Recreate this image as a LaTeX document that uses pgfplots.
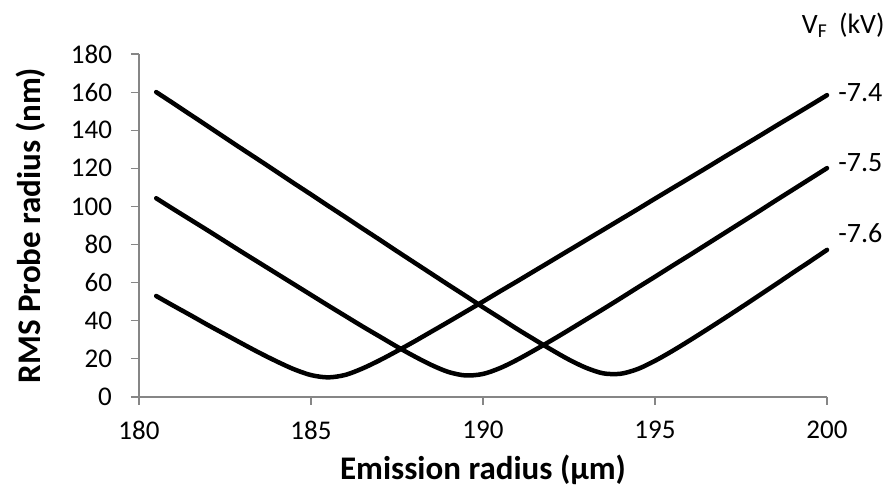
\documentclass[border=0pt]{standalone}
\usepackage{fontspec}
\setmainfont{Carlito}
\usepackage{pgfplots}
\usepackage{pgfplotstable}
\pgfplotsset{compat=1.18}
\definecolor{axgray}{HTML}{868686}

\pgfplotstableread{
x y
180.5 53.0
181 47.9
181.5 42.9
182 37.8
182.5 32.9
183 28.0
183.5 23.2
184 18.7
184.5 14.6
185 11.5
185.5 10.3
186 11.6
186.5 15.0
187 19.3
187.5 24.1
188 29.1
188.5 34.3
189 39.5
189.5 44.8
190 50.1
190.5 55.5
191 60.8
191.5 66.2
192 71.6
192.5 77.0
193 82.4
193.5 87.8
194 93.2
194.5 98.6
195 104.1
195.5 109.5
196 114.9
196.5 120.3
197 125.8
197.5 131.2
198 136.6
198.5 142.1
199 147.5
199.5 152.9
200 158.4
}\seriesA

\pgfplotstableread{
x y
180.5 104.3
181 98.6
181.5 93.0
182 87.4
182.5 81.7
183 76.0
183.5 70.4
184 64.8
184.5 59.2
185 53.6
185.5 48.0
186 42.5
186.5 37.0
187 31.7
187.5 26.4
188 21.4
188.5 16.8
189 13.1
189.5 11.3
190 12.1
190.5 15.2
191 19.6
191.5 24.6
192 29.8
192.5 35.2
193 40.7
193.5 46.2
194 51.8
194.5 57.5
195 63.1
195.5 68.8
196 74.4
196.5 80.1
197 85.8
197.5 91.5
198 97.2
198.5 103.0
199 108.7
199.5 114.4
200 120.1
}\seriesB

\pgfplotstableread{
x y
180.5 160.0
181 154.1
181.5 148.1
182 142.1
182.5 136.1
183 130.1
183.5 124.2
184 118.2
184.5 112.2
185 106.3
185.5 100.3
186 94.4
186.5 88.4
187 82.5
187.5 76.5
188 70.6
188.5 64.7
189 58.8
189.5 53.0
190 47.1
190.5 41.4
191 35.6
191.5 30.1
192 24.7
192.5 19.6
193 15.3
193.5 12.4
194 12.2
194.5 14.7
195 19.0
195.5 24.1
196 29.6
196.5 35.3
197 41.1
197.5 47.0
198 53.0
198.5 59.0
199 65.1
199.5 71.1
200 77.2
}\seriesC

\begin{document}
\begin{tikzpicture}
\begin{axis}[
  scale only axis,
  width=344pt, height=171.5pt,
  xmin=180, xmax=200, ymin=0, ymax=180,
  xtick={180,185,...,200}, ytick={0,20,...,180},
  axis x line*=bottom, axis y line*=left,
  axis line style={axgray, line width=0.6pt, -},
  tick style={axgray, line width=0.6pt},
  tick align=outside, major tick length=4pt,
  ticklabel style={font=\fontsize{13.5}{16}\selectfont, text=black},
  /pgf/number format/assume math mode=true,
  xticklabel style={yshift=-4.5pt},
  yticklabel style={xshift=-6pt},
  xlabel={\textbf{Emission radius (μm)}},
  ylabel={\textbf{RMS Probe radius (nm)}},
  label style={font=\fontsize{16.5}{19}\selectfont},
  xlabel style={at={(axis description cs:0.5,-0.213)}, anchor=center},
  ylabel style={at={(axis description cs:-0.158,0.5)}, anchor=center},
  clip=false,
]
\addplot[black, line width=2.25pt, smooth, line cap=round] table {\seriesA};
\addplot[black, line width=2.25pt, smooth, line cap=round] table {\seriesB};
\addplot[black, line width=2.25pt, smooth, line cap=round] table {\seriesC};
\coordinate (sw) at (rel axis cs:0,0);
\coordinate (ne) at (rel axis cs:1,1);
\node[anchor=west, font=\fontsize{14}{16}\selectfont, inner sep=0pt] at (axis description cs:1,0.886) [xshift=5.5pt] {-7.4};
\node[anchor=west, font=\fontsize{14}{16}\selectfont, inner sep=0pt] at (axis description cs:1,0.682) [xshift=5.5pt] {-7.5};
\node[anchor=west, font=\fontsize{14}{16}\selectfont, inner sep=0pt] at (axis description cs:1,0.478) [xshift=5.5pt] {-7.6};
\node[anchor=east, font=\fontsize{14}{16}\selectfont, inner sep=0pt] at (axis description cs:1.0843,1.0845) {V\textsubscript{F}\hspace{0.4em}(kV)};
\end{axis}
\pgfresetboundingbox
\path ([shift={(-69.5pt,-49.5pt)}]sw) rectangle ([shift={(31.5pt,27pt)}]ne);
\end{tikzpicture}
\end{document}
